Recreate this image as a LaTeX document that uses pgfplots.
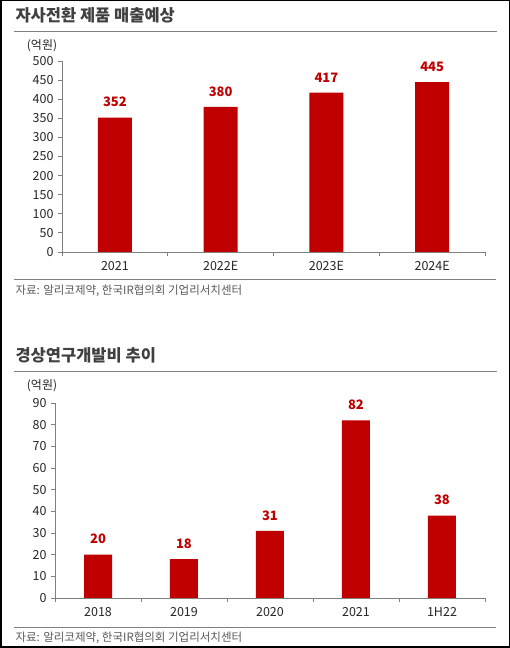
\documentclass[border=0pt]{standalone}
\usepackage{fontspec}
\setmainfont{Noto Sans CJK KR}
\usepackage{pgfplots}
\pgfplotsset{compat=1.18}
\definecolor{barred}{HTML}{C00000}
\definecolor{titlegray}{HTML}{404040}
\definecolor{srcgray}{HTML}{595959}
\definecolor{axgray}{HTML}{808080}
\pgfplotsset{
  mybar/.style={
    scale only axis,
    anchor=south west,
    axis x line*=bottom,
    axis y line*=left,
    axis line style={axgray, line width=0.8pt},
    ymin=0,
    xtick=data,
    major x tick style={draw=none},
    minor tick length=4pt,
    major tick length=4pt,
    tick align=outside,
    tick style={axgray, line width=0.8pt},
    ytick style={axgray, line width=0.8pt},
    /pgf/number format/assume math mode=true,
    ticklabel style={font=\fontsize{12.5}{12}\selectfont, text=black!85},
    yticklabel style={xshift=-1pt},
    xticklabel style={yshift=-2pt},
  },
  mybarplot/.style={
    ybar, fill=barred, draw=none, mark=none,
    point meta=explicit symbolic,
    nodes near coords,
    nodes near coords style={font=\fontsize{13}{12}\selectfont\bfseries, text=barred, yshift=7pt},
  }
}
\begin{document}
\begin{tikzpicture}[x=1pt,y=1pt]
\useasboundingbox (0,0) rectangle (510,648);
\draw[black, line width=1.5pt] (0.75,0.75) rectangle (509.25,647.25);
% chart 1
\node[anchor=west, text=titlegray, font=\fontsize{16.5}{16}\selectfont\bfseries] at (12,633) {자사전환 제품 매출예상};
\draw[axgray, line width=1pt] (14,616) -- (497,616);
\node[font=\fontsize{12}{12}\selectfont, text=black!85] at (42,602) {(억원)};
\begin{axis}[mybar, at={(62pt,396pt)}, width=423pt, height=191pt,
  xmin=-0.5, xmax=3.5, ymax=500, ytick={0,50,...,500},
  minor xtick={-0.5,0.5,1.5,2.5,3.5},
  xticklabels={2021,2022E,2023E,2024E}, bar width=34pt]
\addplot[mybarplot] coordinates {(0,352) [352] (1,380) [380] (2,417) [417] (3,445) [445]};
\end{axis}
\draw[axgray, line width=0.8pt] (14,369) -- (496,369);
\node[anchor=west, text=srcgray, font=\fontsize{11.5}{12}\selectfont] at (12,357) {자료: 알리코제약, 한국IR협의회 기업리서치센터};
% chart 2
\node[anchor=west, text=titlegray, font=\fontsize{16.5}{16}\selectfont\bfseries] at (12,293) {경상연구개발비 추이};
\draw[axgray, line width=1pt] (14,276) -- (497,276);
\node[font=\fontsize{12}{12}\selectfont, text=black!85] at (42,262) {(억원)};
\begin{axis}[mybar, at={(55pt,50pt)}, width=430pt, height=195pt,
  xmin=-0.5, xmax=4.5, ymax=90, ytick={0,10,...,90},
  minor xtick={-0.5,0.5,1.5,2.5,3.5,4.5},
  xticklabels={2018,2019,2020,2021,1H22}, bar width=28pt]
\addplot[mybarplot] coordinates {(0,20) [20] (1,18) [18] (2,31) [31] (3,82) [82] (4,38) [38]};
\end{axis}
\draw[axgray, line width=0.8pt] (14,21) -- (496,21);
\node[anchor=west, text=srcgray, font=\fontsize{11.5}{12}\selectfont] at (12,10) {자료: 알리코제약, 한국IR협의회 기업리서치센터};
\end{tikzpicture}
\end{document}
